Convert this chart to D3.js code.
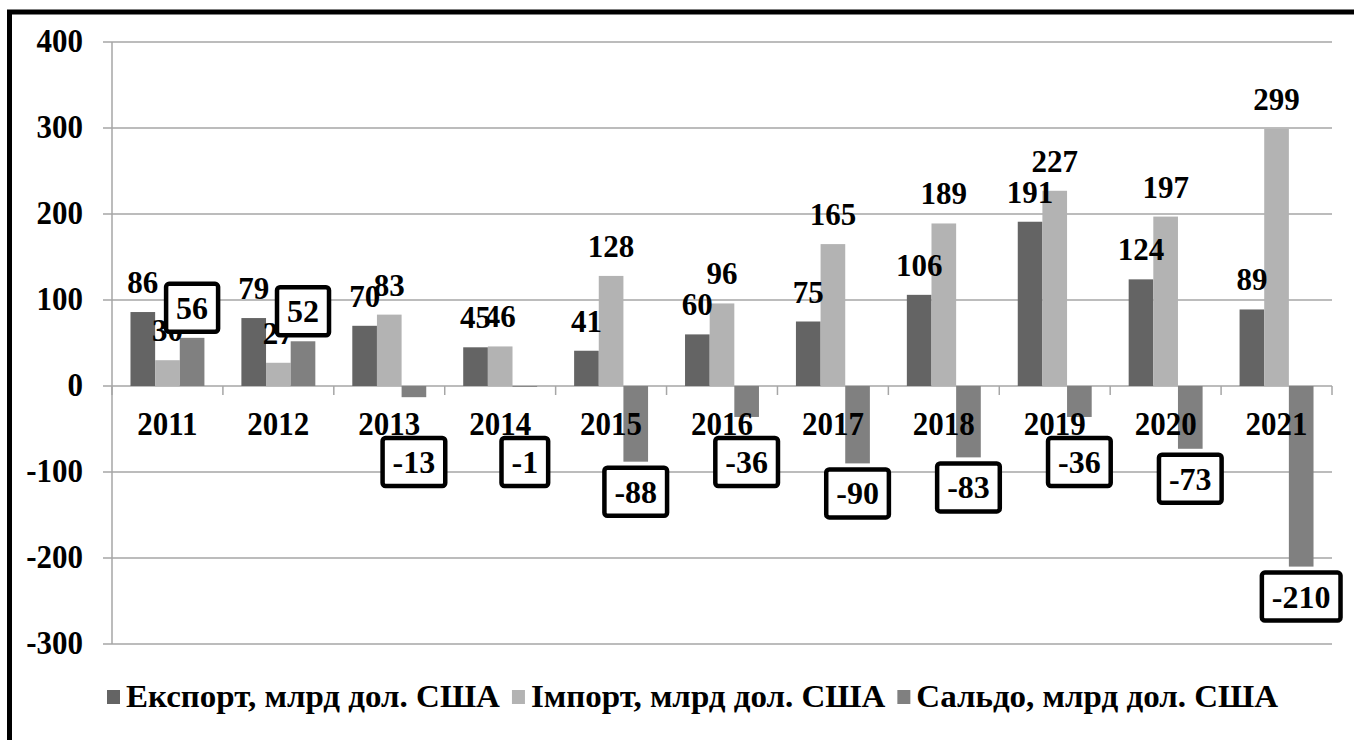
<!DOCTYPE html>
<html>
<head>
<meta charset="utf-8">
<script src="https://cdn.jsdelivr.net/npm/d3@7"></script>
<style>
  html, body { margin: 0; padding: 0; background: #fff; overflow: hidden; }
  svg { display: block; }
</style>
</head>
<body>
<svg id="chart" width="1354" height="740"></svg>
<script>
const years = ["2011","2012","2013","2014","2015","2016","2017","2018","2019","2020","2021"];
const exportVals = [86, 79, 70, 45, 41, 60, 75, 106, 191, 124, 89];
const importVals = [30, 27, 83, 46, 128, 96, 165, 189, 227, 197, 299];
const saldoVals = [56, 52, -13, -1, -88, -36, -90, -83, -36, -73, -210];
const yTicks = [400, 300, 200, 100, 0, -100, -200, -300];
const seriesKeys = ["export", "import", "saldo"];
const seriesNames = ["Експорт, млрд дол. США", "Імпорт, млрд дол. США", "Сальдо, млрд дол. США"];
const seriesColors = ["#646464", "#b3b3b3", "#808080"];

const svg = d3.select("#chart");
const FONT = "'Liberation Serif', 'Times New Roman', serif";

// frame
svg.append("rect").attr("x", 9.5).attr("y", 12).attr("width", 1500).attr("height", 900)
  .attr("fill", "none").attr("stroke", "#000").attr("stroke-width", 5);

const plotL = 112, plotR = 1332;
const y = d3.scaleLinear().domain([-300, 400]).range([644, 42]);
const x0 = d3.scaleBand().domain(years).range([plotL, plotR]).padding(0);
const x1 = d3.scaleBand().domain(seriesKeys).range([0, x0.bandwidth()]).paddingInner(0).paddingOuter(0.75);

function txt(g, x, yy, s, anchor, fs, sx, sy) {
  return g.append("text")
    .attr("transform", `translate(${x},${yy}) scale(${sx || 1},${sy || 1})`)
    .attr("text-anchor", anchor || "middle")
    .attr("font-family", FONT)
    .attr("font-weight", "bold")
    .attr("font-size", fs)
    .attr("fill", "#000")
    .text(s);
}

// gridlines
const grid = svg.append("g");
yTicks.forEach(v => {
  grid.append("line").attr("x1", plotL - 9).attr("x2", plotR)
    .attr("y1", y(v)).attr("y2", y(v))
    .attr("stroke", "#a6a6a6").attr("stroke-width", 1.5);
});
grid.append("line").attr("x1", plotL).attr("x2", plotL).attr("y1", y(400)).attr("y2", y(-300))
  .attr("stroke", "#a6a6a6").attr("stroke-width", 1.5);
d3.range(years.length + 1).forEach(i => {
  const xx = plotL + i * x0.bandwidth();
  grid.append("line").attr("x1", xx).attr("x2", xx).attr("y1", y(0)).attr("y2", y(0) + 9)
    .attr("stroke", "#a6a6a6").attr("stroke-width", 1.5);
});

// y labels
yTicks.forEach(v => txt(svg, 83, y(v) + 10, String(v), "end", 31, 1, 1.1));

// bars
const data = years.map((yr, i) => ({ yr, export: exportVals[i], import: importVals[i], saldo: saldoVals[i] }));
const bars = svg.append("g");
data.forEach(d => {
  seriesKeys.forEach((k, si) => {
    const v = d[k];
    bars.append("rect")
      .attr("x", x0(d.yr) + x1(k))
      .attr("width", x1.bandwidth())
      .attr("y", Math.min(y(v), y(0)))
      .attr("height", Math.abs(y(v) - y(0)))
      .attr("fill", seriesColors[si]);
  });
});

// export/import labels
data.forEach(d => {
  ["export", "import"].forEach(k => {
    const cx = x0(d.yr) + x1(k) + x1.bandwidth() / 2;
    txt(svg, cx, y(d[k]) - 19, String(d[k]), "middle", 31);
  });
});

// category labels
years.forEach(yr => txt(svg, x0(yr) + x0.bandwidth() / 2, y(0) + 49, yr, "middle", 31, 1, 1.1));

// saldo boxed labels
data.forEach(d => {
  const v = d.saldo;
  const cx = x0(d.yr) + x1("saldo") + x1.bandwidth() / 2;
  const h = 48;
  const top = v >= 0 ? y(v) - 6 - h : Math.max(y(v) + 6, 438);
  const g = svg.append("g");
  const rect = g.append("rect").attr("fill", "#fff").attr("stroke", "#000").attr("stroke-width", 4.5).attr("rx", 3);
  const t = txt(g, cx, top + 35, String(v), "middle", 32);
  const w = t.node().getComputedTextLength() + 20;
  rect.attr("x", cx - w / 2).attr("y", top).attr("width", w).attr("height", h);
});

// legend
const leg = svg.append("g").attr("transform", "translate(107,707)");
let lx = 0;
const mk = 13, gapMT = 6, gapItem = 12, LSX = 1.1;
seriesNames.forEach((n, i) => {
  const g = leg.append("g");
  g.append("rect").attr("x", lx).attr("y", -17).attr("width", mk).attr("height", mk + 1).attr("fill", seriesColors[i]);
  const t = txt(g, lx + mk + gapMT, 0, n, "start", 30, LSX, 1.05);
  const w = t.node().getComputedTextLength() * LSX;
  lx += mk + gapMT + w + gapItem;
});
</script>
</body>
</html>
